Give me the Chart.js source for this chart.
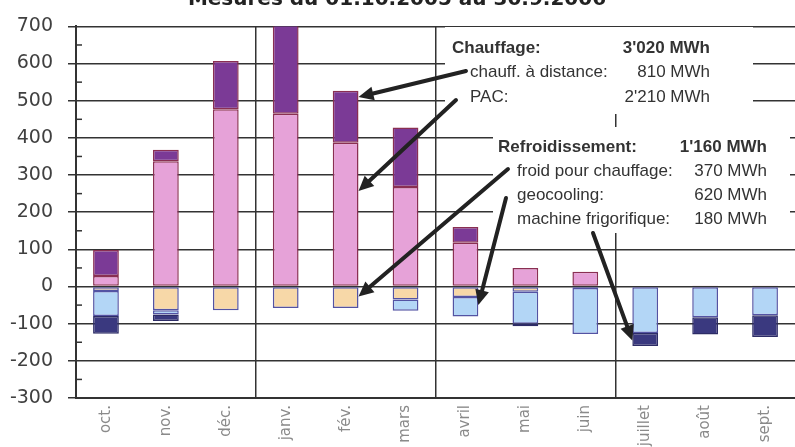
<!DOCTYPE html>
<html>
<head>
<meta charset="utf-8">
<script src="https://cdn.jsdelivr.net/npm/chart.js@4.4.0/dist/chart.umd.min.js"></script>
<style>
  html, body { margin: 0; padding: 0; background: #fff; }
  #wrap { width: 795px; height: 447px; position: relative; }
</style>
</head>
<body>
<div id="wrap"><canvas id="energie"></canvas></div>
<script>
var MONTHS = ['oct.', 'nov.', 'déc.', 'janv.', 'fév.', 'mars', 'avril', 'mai', 'juin', 'juillet', 'août', 'sept.'];

// MWh par mois
var PAC = [28, 337, 477, 465, 387, 268, 118, 50, 40, null, null, null];
var CHAUFF_DISTANCE = [70, 31, 130, 240, 140, 160, 42, null, null, null, 3, 3];
var FROID_CHAUFFAGE = [-12, -64, -64, -58, -58, -35, -28, -14, -4, null, null, null];
var GEOCOOLING = [-67, -11, null, null, null, -30, -53, -86, -124, -125, -83, -77];
var MACHINE_FRIGO = [-48, -18, null, null, null, null, null, -7, null, -35, -46, -59];

var Y_TICKS = [-300, -200, -100, 0, 100, 200, 300, 400, 500, 600, 700];

var TITLE = 'Mesures du 01.10.2005 au 30.9.2006';
var NOTE_HEAT = [
    ['Chauffage:', "3'020 MWh"],
    ['chauff. à distance:', '810 MWh'],
    ['PAC:', "2'210 MWh"]
];
var NOTE_COOL = [
    ['Refroidissement:', "1'160 MWh"],
    ['froid pour chauffage:', '370 MWh'],
    ['geocooling:', '620 MWh'],
    ['machine frigorifique:', '180 MWh']
];

var GRID = '#333333';
var RED_EDGE = '#8a2f52';
var BLUE_EDGE = '#5353a3';

function drawArrow(ctx, x0, y0, x1, y1) {
    var ang = Math.atan2(y1 - y0, x1 - x0);
    var head = 15, half = 7;
    var bx = x1 - Math.cos(ang) * head, by = y1 - Math.sin(ang) * head;
    ctx.save();
    ctx.strokeStyle = '#222';
    ctx.fillStyle = '#222';
    ctx.lineWidth = 4;
    ctx.lineCap = 'round';
    ctx.beginPath();
    ctx.moveTo(x0, y0);
    ctx.lineTo(bx, by);
    ctx.stroke();
    ctx.beginPath();
    ctx.moveTo(x1, y1);
    ctx.lineTo(bx + Math.sin(ang) * half, by - Math.cos(ang) * half);
    ctx.lineTo(bx - Math.sin(ang) * half, by + Math.cos(ang) * half);
    ctx.closePath();
    ctx.fill();
    ctx.restore();
}

var notesPlugin = {
    id: 'notes',
    afterDraw: function(chart) {
        var ctx = chart.ctx;
        var xs = chart.scales.x, ys = chart.scales.y;
        var area = chart.chartArea;

        // petites graduations intermédiaires
        ctx.save();
        ctx.strokeStyle = GRID;
        ctx.lineWidth = 1.5;
        for (var v = -250; v < 700; v += 100) {
            var py = ys.getPixelForValue(v);
            ctx.beginPath();
            ctx.moveTo(area.left, py);
            ctx.lineTo(area.left + 6, py);
            ctx.stroke();
        }
        ctx.restore();

        // titre (coupé en haut)
        ctx.save();
        ctx.fillStyle = '#222';
        ctx.font = 'bold 20px "DejaVu Sans"';
        ctx.textAlign = 'center';
        ctx.textBaseline = 'alphabetic';
        ctx.fillText(TITLE, 397, 5);
        ctx.restore();

        // cadres blancs des légendes
        ctx.save();
        ctx.fillStyle = '#fff';
        ctx.fillRect(445, 27, 308, 87);
        ctx.fillRect(493, 127, 297, 106);
        ctx.restore();

        ctx.save();
        ctx.fillStyle = '#333';
        ctx.textBaseline = 'middle';
        var rowsHeat = [48, 72.5, 97];
        NOTE_HEAT.forEach(function(row, i) {
            ctx.font = (i === 0 ? 'bold ' : '') + '17px "Liberation Sans", Arial';
            ctx.textAlign = 'left';
            ctx.fillText(row[0], i === 0 ? 452 : 470, rowsHeat[i]);
            ctx.textAlign = 'right';
            ctx.fillText(row[1], 710, rowsHeat[i]);
        });
        var rowsCool = [147, 171.5, 195, 219];
        NOTE_COOL.forEach(function(row, i) {
            ctx.font = (i === 0 ? 'bold ' : '') + '17px "Liberation Sans", Arial';
            ctx.textAlign = 'left';
            ctx.fillText(row[0], i === 0 ? 498 : 517, rowsCool[i]);
            ctx.textAlign = 'right';
            ctx.fillText(row[1], 767, rowsCool[i]);
        });
        ctx.restore();

        // flèches vers les barres
        var halfBar = xs.width / MONTHS.length * 0.43 / 2;
        var arrows = [
            [466, 71, 4, 510, 1],
            [456, 100, 4, 257, 1],
            [508, 169, 4, -27, 1],
            [506, 198, 6, -50, 1],
            [593, 233, 9, -145, -1]
        ];
        arrows.forEach(function(a) {
            var tx = xs.getPixelForValue(a[2]) + a[4] * halfBar;
            var ty = ys.getPixelForValue(a[3]);
            drawArrow(ctx, a[0], a[1], tx, ty);
        });
    }
};

function serie(label, data, fill, edge) {
    return {
        label: label,
        data: data,
        backgroundColor: fill,
        borderColor: edge,
        borderWidth: 1.5,
        borderSkipped: false,
        categoryPercentage: 1.0,
        barPercentage: 0.43
    };
}

window.onload = function() {
    var ctx = document.getElementById('energie').getContext('2d');
    window.myBar = new Chart(ctx, {
        type: 'bar',
        data: {
            labels: MONTHS,
            datasets: [
                serie('PAC', PAC, '#e6a2d8', RED_EDGE),
                serie('chauff. à distance', CHAUFF_DISTANCE, '#7b3a96', RED_EDGE),
                serie('froid pour chauffage', FROID_CHAUFFAGE, '#f7d8a8', BLUE_EDGE),
                serie('geocooling', GEOCOOLING, '#b3d6f6', BLUE_EDGE),
                serie('machine frigorifique', MACHINE_FRIGO, '#3a397f', '#2d2c66')
            ]
        },
        options: {
            responsive: true,
            maintainAspectRatio: false,
            animation: false,
            layout: { padding: { top: 19, right: 0, left: 0, bottom: 0 } },
            plugins: {
                legend: { display: false },
                title: { display: false },
                tooltip: { enabled: false }
            },
            scales: {
                x: {
                    stacked: true,
                    afterFit: function(scale) { scale.height = 49; },
                    grid: {
                        offset: true,
                        drawTicks: false,
                        lineWidth: 1.5,
                        color: function(c) { return c.index % 3 === 0 ? GRID : 'rgba(0,0,0,0)'; }
                    },
                    border: { display: true, color: GRID, width: 2 },
                    ticks: {
                        minRotation: 90,
                        maxRotation: 90,
                        padding: 7,
                        color: '#8a8a8a',
                        font: { family: '"DejaVu Sans"', size: 15 }
                    }
                },
                y: {
                    stacked: true,
                    min: Y_TICKS[0],
                    max: Y_TICKS[Y_TICKS.length - 1],
                    afterFit: function(scale) { scale.width = 76; },
                    afterBuildTicks: function(scale) {
                        scale.ticks = Y_TICKS.map(function(v) { return { value: v }; });
                    },
                    grid: {
                        color: GRID,
                        lineWidth: 1.5,
                        tickLength: 8,
                        tickColor: GRID
                    },
                    border: { display: true, color: GRID, width: 2 },
                    ticks: {
                        padding: 15,
                        color: '#404040',
                        font: { family: '"DejaVu Sans"', size: 19 }
                    }
                }
            }
        },
        plugins: [notesPlugin]
    });
};
</script>
</body>
</html>
